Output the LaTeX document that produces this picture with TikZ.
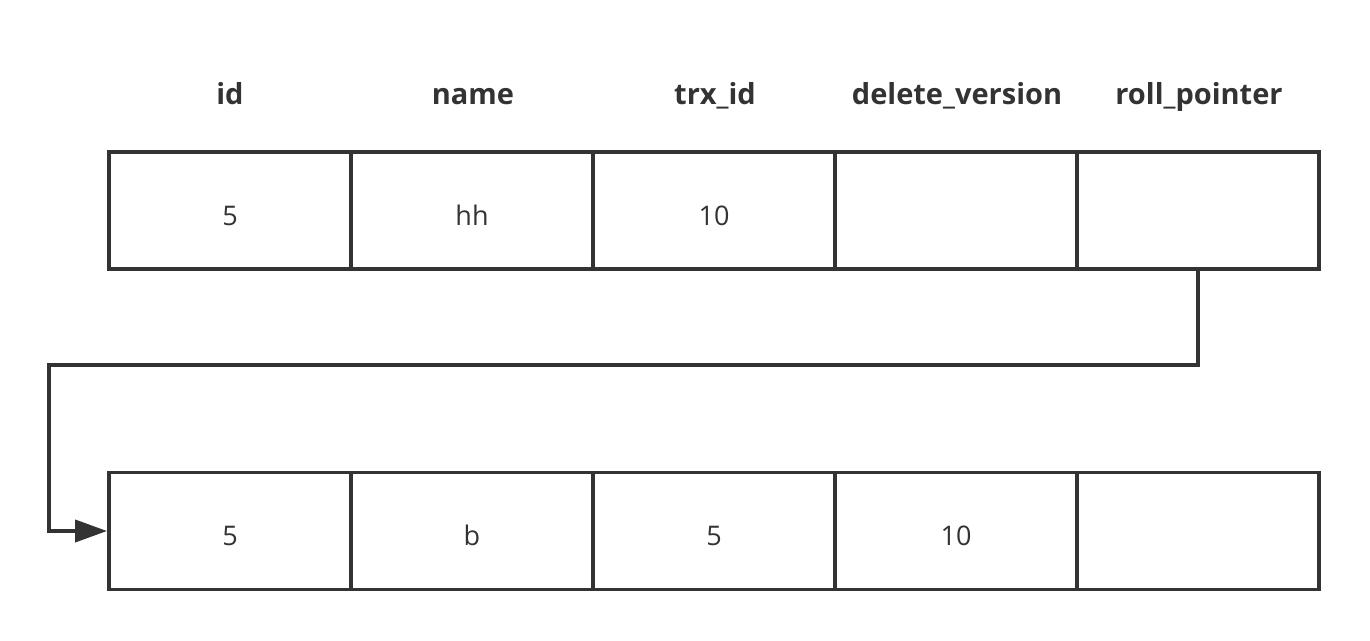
\documentclass[tikz,border=0pt]{standalone}
\usepackage{fontspec}
\setmainfont{Open Sans}
\usetikzlibrary{arrows.meta}
\definecolor{ink}{HTML}{333333}
\begin{document}
\begin{tikzpicture}[x=1pt,y=-1pt,
  cell/.style={draw=ink, line width=3.8pt, minimum width=242pt, minimum height=117pt, inner sep=0pt},
  val/.style={text=ink, font=\fontsize{27}{30}\selectfont, inner sep=0pt, anchor=base},
  head/.style={text=ink, font=\fontsize{29}{32}\selectfont\bfseries, inner sep=0pt, anchor=base},
  link/.style={draw=ink, line width=3.8pt, -{Triangle[length=32pt,width=22pt]}}]
\useasboundingbox (0,0) rectangle (1370,640);
\node[head] (h1) at (230,104) {id};
\node[head] (h2) at (473,104) {name};
\node[head] (h3) at (715,104) {trx\_id};
\node[head] (h4) at (957,104) {delete\_version};
\node[head] (h5) at (1199,104) {roll\_pointer};
\node[cell] (t1) at (230,210.5) {};
\node[cell] (t2) at (472,210.5) {};
\node[cell] (t3) at (714,210.5) {};
\node[cell] (t4) at (956,210.5) {};
\node[cell] (t5) at (1198,210.5) {};
\node[cell] (b1) at (230,531) {};
\node[cell] (b2) at (472,531) {};
\node[cell] (b3) at (714,531) {};
\node[cell] (b4) at (956,531) {};
\node[cell] (b5) at (1198,531) {};
\node[val] (vt1) at (230,225) {5};
\node[val] (vt2) at (472,225) {hh};
\node[val] (vt3) at (714,225) {10};
\node[val] (vb1) at (230,545) {5};
\node[val] (vb2) at (472,545) {b};
\node[val] (vb3) at (714,545) {5};
\node[val] (vb4) at (956,545) {10};
\coordinate (k1) at (1198,365);
\coordinate (k2) at (49,365);
\coordinate (k3) at (49,531);
\draw[link] (t5.south) -- (k1) -- (k2) -- (k3) -- (b1.west);
\end{tikzpicture}
\end{document}
